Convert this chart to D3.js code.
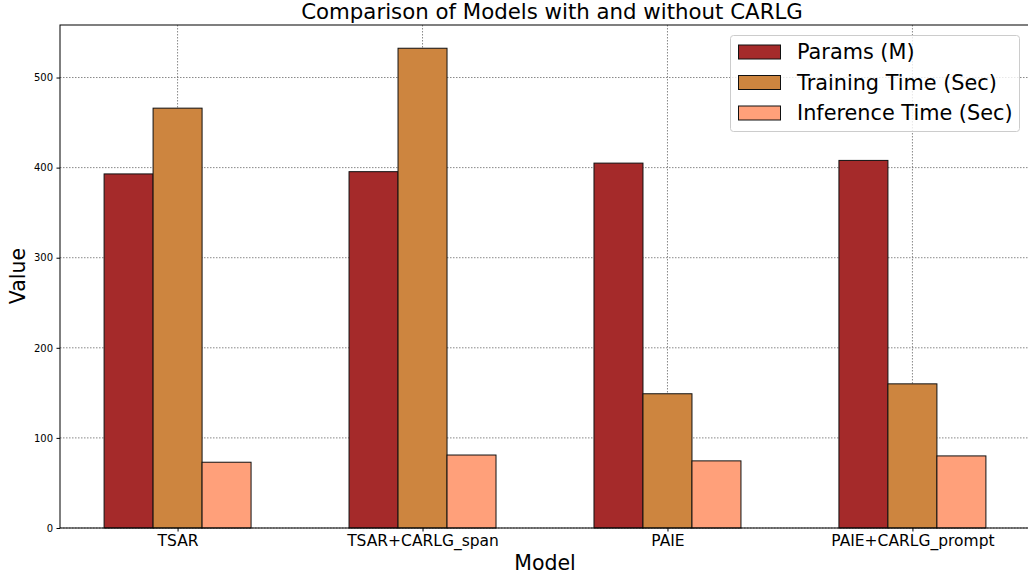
<!DOCTYPE html>
<html><head><meta charset="utf-8">
<script src="https://cdn.jsdelivr.net/npm/d3@7"></script>
<style>body{margin:0;background:#fff}svg{font-family:"DejaVu Sans",sans-serif}</style>
</head><body>
<svg id="c" width="1028" height="575"></svg>
<script>
const categories = ["TSAR", "TSAR+CARLG_span", "PAIE", "PAIE+CARLG_prompt"];
const seriesNames = ["Params (M)", "Training Time (Sec)", "Inference Time (Sec)"];
const params = [393, 395.5, 405, 408];
const trainingTime = [466, 532.5, 149, 160];
const inferenceTime = [73, 81, 74.5, 80];
const seriesColors = ["#a52a2a", "#cd853f", "#ffa07a"];
const yTicks = [0, 100, 200, 300, 400, 500];
const series = [params, trainingTime, inferenceTime];

const svg = d3.select("#c");
const L = 60, R = 1030, T = 25, B = 528;
const x = d3.scaleLinear().domain([-0.48, 3.48]).range([L, R]);
const y = d3.scaleLinear().domain([0, 558.3]).range([B, T]);
const bw = 0.2;

// grid
const g = svg.append("g");
g.selectAll(".hg").data(yTicks).join("line")
  .attr("x1", L).attr("x2", R).attr("y1", d => y(d)).attr("y2", d => y(d))
  .attr("stroke", "#555").attr("stroke-width", 0.7).attr("stroke-dasharray", "1.5,1.5");
g.selectAll(".vg").data(categories).join("line")
  .attr("x1", (d, i) => x(i)).attr("x2", (d, i) => x(i)).attr("y1", T).attr("y2", B)
  .attr("stroke", "#555").attr("stroke-width", 0.7).attr("stroke-dasharray", "1.5,1.5");

// bars
series.forEach((vals, s) => {
  svg.append("g").selectAll("rect").data(vals).join("rect")
    .attr("x", (d, i) => x(i + (s - 1) * bw - bw / 2))
    .attr("width", x(bw) - x(0))
    .attr("y", d => y(d))
    .attr("height", d => y(0) - y(d))
    .attr("fill", seriesColors[s])
    .attr("stroke", "#111").attr("stroke-width", 1);
});

// axes
const ya = d3.axisLeft(y).tickValues(yTicks).tickSize(3.5).tickPadding(3.5);
const yg = svg.append("g").attr("transform", `translate(${L},0)`).call(ya);
yg.select(".domain").remove();
yg.selectAll("text").attr("font-size", 10).attr("font-family", "DejaVu Sans").attr("fill", "#000");
const xa = d3.axisBottom(x).tickValues(d3.range(categories.length)).tickFormat(i => categories[i]).tickSize(3.5).tickPadding(3.5);
const xg = svg.append("g").attr("transform", `translate(0,${B})`).call(xa);
xg.select(".domain").remove();
xg.selectAll("text").attr("font-size", 15.5).attr("font-family", "DejaVu Sans").attr("fill", "#000");

// spines
svg.append("rect").attr("x", L).attr("y", T).attr("width", R - L).attr("height", B - T)
  .attr("fill", "none").attr("stroke", "#000").attr("stroke-width", 1);

// title & labels
svg.append("text").attr("x", 552).attr("y", 19).attr("text-anchor", "middle")
  .attr("font-size", 21.3).text("Comparison of Models with and without CARLG");
svg.append("text").attr("x", 545).attr("y", 570).attr("text-anchor", "middle")
  .attr("font-size", 20.5).text("Model");
svg.append("text").attr("transform", "translate(25,276) rotate(-90)").attr("text-anchor", "middle")
  .attr("font-size", 20.5).text("Value");

// legend
const lg = svg.append("g");
lg.append("rect").attr("x", 730.5).attr("y", 35.5).attr("width", 289).attr("height", 96).attr("rx", 3)
  .attr("fill", "#fff").attr("fill-opacity", 0.8).attr("stroke", "#ccc").attr("stroke-width", 1);
seriesNames.forEach((n, i) => {
  const yy = 52 + i * 30.5;
  lg.append("rect").attr("x", 738.5).attr("y", yy - 7).attr("width", 42).attr("height", 14)
    .attr("fill", seriesColors[i]).attr("stroke", "#111").attr("stroke-width", 1);
  lg.append("text").attr("x", 797).attr("y", yy + 7).attr("font-size", 20.8).text(n);
});
</script>
</body></html>
